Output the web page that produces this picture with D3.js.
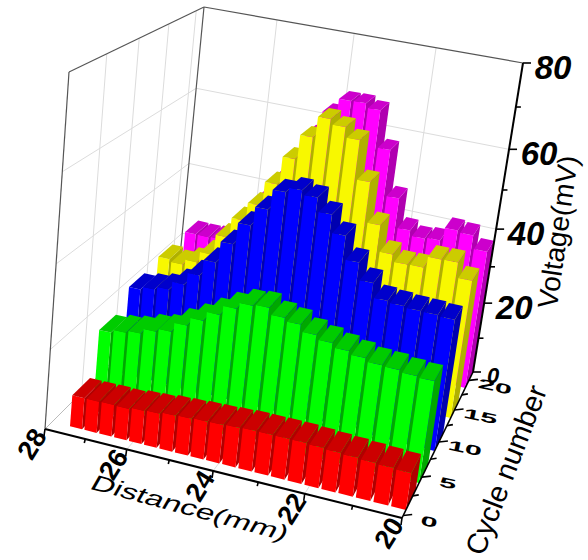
<!DOCTYPE html>
<html>
<head>
<meta charset="utf-8">
<style>
  html, body { margin: 0; padding: 0; background: #fff; }
  text { font-family: "Liberation Sans", Arial, sans-serif; fill: #000; }
</style>
<script src="https://cdn.jsdelivr.net/npm/d3@7"></script>
</head>
<body>
<div id="chart"></div>
<script>
// data
var distance = [27.4, 27.04, 26.675, 26.31, 25.95, 25.59, 25.225, 24.86, 24.5, 24.14, 23.775,
                23.41, 23.05, 22.69, 22.325, 21.96, 21.6, 21.24, 20.875, 20.51, 20.15];
var cycleRed = 2, cycleGreen = 5.5, cycleBlue = 10, cycleYellow = 15, cycleMagenta = 20;
var redValues = [8, 8, 8.1, 8, 8.4, 8.6, 9, 9.2, 9.4, 9.5, 9.7, 9.9, 9.9, 9.9, 9.9, 9.7, 9.5, 9.3, 9.1, 8.9, 8.7];
var greenValues = [18.9, 19.7, 20.3, 21.6, 22.4, 24.7, 26.7, 28.9, 31.1, 32.6, 32.9, 31.4, 30.6, 29, 28, 27, 26.2, 25.4, 25.2, 24.7, 24.4];
var blueValues = [23.4, 24.2, 25, 27.1, 30.1, 34.1, 39.3, 44.5, 48.9, 53.5, 54.6, 53.6, 50.5, 46.4, 41, 37, 33.6, 33.2, 32.9, 32.8, 32.5];
var yellowValues = [24.6, 24, 25.4, 28.3, 33.6, 38.7, 43.2, 49.1, 55.8, 61.5, 66.3, 65.1, 62.8, 53.8, 44.3, 38, 36.3, 36.4, 39.2, 39.3, 35.7];
var magentaValues = [25, 25, 25.2, 28, 33, 38, 44, 50, 57, 63, 66.7, 66.8, 65.8, 57, 45.8, 38.4, 37.1, 37.5, 40.9, 40.5, 37.2];

var distanceTicks = [28, 26, 24, 22, 20];
var distanceMinor = [27, 25, 23, 21];
var cycleTicks = [0, 5, 10, 15, 20];
var cycleMinor = [2.5, 7.5, 12.5, 17.5];
var voltageTicks = [0, 20, 40, 60, 80];
var voltageMinor = [10, 30, 50, 70];

var w = 588, h = 560;
var svg = d3.select("#chart").append("svg").attr("width", w).attr("height", h);

var uScale = d3.scaleLinear().domain([28, 20]).range([0, 1]);
var vScale = d3.scaleLinear().domain([-0.3, 21.5]).range([0, 1]);
var wScale = d3.scaleLinear().domain([0, 80]).range([0, 1]);

// box corners in the picture: front-left, front-right, back-right, back-left
var floorC = [[45, 429], [402, 518], [473, 372], [176, 298]];
var topC = [[69, 72], [460, 126], [523, 63], [204, 7]];
var ku = -0.11, kv = 0.21, kz = -0.14;

function warp(t, k) { return t * (1 + k) / (1 + k * t); }

function bilinear(c, u, v) {
    return [0, 1].map(function(i) {
        return (1 - v) * ((1 - u) * c[0][i] + u * c[1][i]) + v * ((1 - u) * c[3][i] + u * c[2][i]);
    });
}

// distance, cycle, voltage -> pixel
function project(x, y, z) {
    var u = warp(uScale(x), ku), v = warp(vScale(y), kv), s = warp(wScale(z), kz);
    var a = bilinear(floorC, u, v), b = bilinear(topC, u, v);
    return [a[0] + (b[0] - a[0]) * s, a[1] + (b[1] - a[1]) * s];
}

var line3 = function(a, b, color, width) {
    var p = project(a[0], a[1], a[2]), q = project(b[0], b[1], b[2]);
    svg.append("line").attr("x1", p[0]).attr("y1", p[1]).attr("x2", q[0]).attr("y2", q[1])
       .attr("stroke", color).attr("stroke-width", width);
};

var xA = 28, xB = 20, yA = vScale.domain()[0], yB = vScale.domain()[1], zT = 80;

// grid on the walls
var gridColor = "#dcdcdc";
voltageTicks.slice(1, 4).forEach(function(z) {
    line3([xA, yA, z], [xA, yB, z], gridColor, 1);
    line3([xA, yB, z], [xB, yB, z], gridColor, 1);
});
cycleTicks.slice(1).forEach(function(c) {
    line3([xA, c, 0], [xA, c, zT], gridColor, 1);
    line3([xA, c, 0], [xB, c, 0], gridColor, 1);
});
distanceTicks.slice(1, 4).forEach(function(d) {
    line3([d, yB, 0], [d, yB, zT], gridColor, 1);
    line3([d, yA, 0], [d, yB, 0], gridColor, 1);
});

// frame of the box
line3([xA, yA, 0], [xA, yA, zT], "#555", 1.2);
line3([xA, yA, zT], [xA, yB, zT], "#555", 1.2);
line3([xA, yB, zT], [xB, yB, zT], "#555", 1.2);
line3([xA, yB, 0], [xA, yB, zT], "#555", 1.2);
line3([xA, yA, 0], [xA, yB, 0], "#bbb", 1);
line3([xA, yB, 0], [xB, yB, 0], "#bbb", 1);

// bars, back row first, left to right inside a row
var barW = 0.15, barD = 1.3;
var rows = [
    { cycle: cycleMagenta, values: magentaValues, front: "#ff00ff", topc: "#cc00cc", side: "#b000b0" },
    { cycle: cycleYellow, values: yellowValues, front: "#f8f800", topc: "#cccc00", side: "#b0b000" },
    { cycle: cycleBlue, values: blueValues, front: "#0000ff", topc: "#0000cc", side: "#0000b0" },
    { cycle: cycleGreen, values: greenValues, front: "#00ff00", topc: "#00cc00", side: "#00a800" },
    { cycle: cycleRed, values: redValues, front: "#ff0000", topc: "#cc0000", side: "#b00000" }
];

function poly(pts) {
    return pts.map(function(p) { return p[0].toFixed(1) + "," + p[1].toFixed(1); }).join(" ");
}

rows.forEach(function(row) {
    var g = svg.append("g");
    var bars = g.selectAll("g").data(row.values).enter().append("g");
    function corners(i, z) {
        var x0 = distance[i] + barW, x1 = distance[i] - barW;
        var y0 = row.cycle - barD, y1 = row.cycle + barD;
        return [project(x0, y0, z), project(x1, y0, z), project(x1, y1, z), project(x0, y1, z)];
    }
    bars.append("polygon").attr("fill", row.side).attr("points", function(d, i) {
        var b = corners(i, 0), t = corners(i, d);
        return poly([b[1], b[2], t[2], t[1]]);
    });
    bars.append("polygon").attr("fill", row.front).attr("points", function(d, i) {
        var b = corners(i, 0), t = corners(i, d);
        return poly([b[0], b[1], t[1], t[0]]);
    });
    bars.append("polygon").attr("fill", row.topc).attr("points", function(d, i) {
        return poly(corners(i, d));
    });
});

// axes on top
line3([xA, yA, 0], [xB, yA, 0], "#000", 2);
line3([xB, yA, 0], [xB, yB, 0], "#000", 1.6);
line3([xB, yB, 0], [xB, yB, zT], "#000", 2);

function tick(p, dx, dy) {
    svg.append("line").attr("x1", p[0]).attr("y1", p[1]).attr("x2", p[0] + dx).attr("y2", p[1] + dy)
       .attr("stroke", "#000").attr("stroke-width", 1.6);
}
distanceTicks.forEach(function(d) { tick(project(d, yA, 0), -1, 7); });
distanceMinor.forEach(function(d) { tick(project(d, yA, 0), -1, 4); });
cycleTicks.forEach(function(c) { tick(project(xB, c, 0), 9, -1); });
cycleMinor.forEach(function(c) { tick(project(xB, c, 0), 6, -1); });
voltageTicks.forEach(function(z) { tick(project(xB, yB, z), 8, 0); });
voltageMinor.forEach(function(z) { tick(project(xB, yB, z), 5, 0); });

function label(txt, x, y, size, weight, transform, style) {
    svg.append("text").text(txt)
       .attr("transform", "translate(" + x + "," + y + ") " + transform)
       .attr("text-anchor", "middle").attr("dominant-baseline", "central")
       .attr("font-size", size).attr("font-weight", weight)
       .attr("font-style", style || "normal");
}

// tick labels
distanceTicks.forEach(function(d) {
    var p = project(d, yA, 0);
    label(d, p[0] - 13, p[1] + 15, 27, "bold", "rotate(-58)");
});
cycleTicks.forEach(function(c) {
    var p = project(xB, c, 0);
    label(c, p[0] + 26, p[1] + 6, 22, "bold", "rotate(12) scale(1.4,0.62)");
});
voltageTicks.forEach(function(z) {
    var p = project(xB, yB, z);
    if (z === 0) label(z, p[0] + 20, p[1] + 3, 22, "bold", "", "italic");
    else label(z, p[0] + 30, p[1] + 4, 33, "bold", "", "italic");
});

// axis titles
label("Distance(mm)", 190, 508, 26, "normal", "rotate(15) skewX(-15) scale(1.25,0.85)");
label("Cycle number", 506, 470, 29, "normal", "rotate(-69)");
label("Voltage(mV)", 558, 232, 28, "normal", "rotate(-82)");
</script>
</body>
</html>
